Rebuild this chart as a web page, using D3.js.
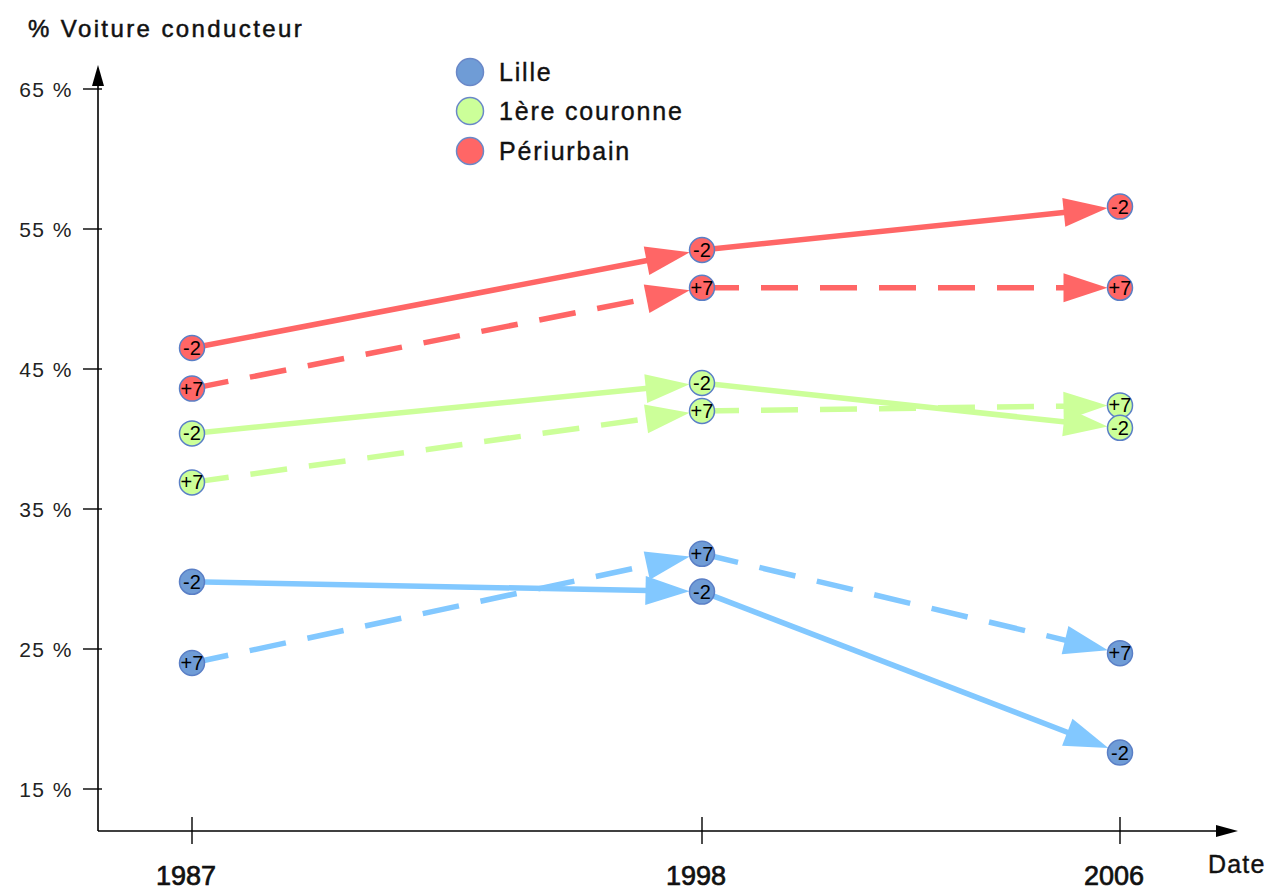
<!DOCTYPE html>
<html><head><meta charset="utf-8">
<script src="https://cdn.jsdelivr.net/npm/d3@7"></script>
<style>body{margin:0;background:#fff} text{font-family:"Liberation Sans",Arial,sans-serif}</style>
</head><body><svg id="c" width="1273" height="891"></svg>
<script>
// ---- data ----
const years = [1987, 1998, 2006];
const yTicks = [15, 25, 35, 45, 55, 65];
const zones = ["Lille", "1ère couronne", "Périurbain"];
const scenarios = ["-2", "+7"];
const lilleMinus2 = [29.8, 29.1, 17.6];
const lillePlus7 = [24.0, 31.8, 24.7];
const couronneMinus2 = [40.4, 44.0, 40.8];
const couronnePlus7 = [36.9, 42.0, 42.4];
const periMinus2 = [46.5, 53.5, 56.6];
const periPlus7 = [43.6, 50.8, 50.8];

const lineColor = {"Lille": "#82c8ff", "1ère couronne": "#ccff99", "Périurbain": "#ff6666"};
const dotColor = {"Lille": "#6f9cd6", "1ère couronne": "#ccff99", "Périurbain": "#ff6666"};

const series = [
  {zone: "Lille", label: "+7", values: lillePlus7},
  {zone: "Lille", label: "-2", values: lilleMinus2},
  {zone: "1ère couronne", label: "+7", values: couronnePlus7},
  {zone: "1ère couronne", label: "-2", values: couronneMinus2},
  {zone: "Périurbain", label: "+7", values: periPlus7},
  {zone: "Périurbain", label: "-2", values: periMinus2}
];

const svg = d3.select("#c");
const x = d3.scaleLinear().domain(years).range([192, 702, 1120]);
const y = d3.scaleLinear().domain([15, 65]).range([789, 89]);
const axisX0 = 98, axisY0 = 831;

// ---- axes ----
const ax = svg.append("g").attr("stroke", "#000").attr("stroke-width", 1.6);
ax.append("line").attr("x1", axisX0).attr("x2", axisX0).attr("y1", axisY0).attr("y2", 80);
ax.append("line").attr("x1", axisX0).attr("x2", 1222).attr("y1", axisY0).attr("y2", axisY0);
svg.append("path").attr("d", `M${axisX0},65 L${axisX0-6},86 L${axisX0+6},86 Z`).attr("fill", "#000");
svg.append("path").attr("d", `M1238,${axisY0} L1216,${axisY0-6} L1216,${axisY0+6} Z`).attr("fill", "#000");

const yt = svg.append("g");
yt.selectAll("line").data(yTicks).join("line")
  .attr("x1", axisX0 - 15).attr("x2", axisX0 + 4)
  .attr("y1", d => y(d)).attr("y2", d => y(d))
  .attr("stroke", "#000").attr("stroke-width", 1.4);
yt.selectAll("text").data(yTicks).join("text")
  .attr("x", 73).attr("y", d => y(d) + 7.5)
  .attr("text-anchor", "end").attr("font-size", 21).attr("letter-spacing", 1.5)
  .attr("fill", "#222").text(d => d + " %");

const xt = svg.append("g");
xt.selectAll("line").data(years).join("line")
  .attr("x1", d => x(d)).attr("x2", d => x(d))
  .attr("y1", axisY0 - 14).attr("y2", axisY0 + 13)
  .attr("stroke", "#000").attr("stroke-width", 1.4);
xt.selectAll("text").data(years).join("text")
  .attr("x", d => x(d) - 6).attr("y", 885)
  .attr("text-anchor", "middle").attr("font-size", 27)
  .attr("fill", "#111").attr("stroke", "#111").attr("stroke-width", 0.7).text(d => d);

svg.append("text").attr("x", 1208).attr("y", 873).attr("font-size", 25).attr("letter-spacing", 1.2)
  .attr("fill", "#111").attr("stroke", "#111").attr("stroke-width", 0.4).text("Date");
svg.append("text").attr("x", 28).attr("y", 37).attr("font-size", 24).attr("letter-spacing", 2.4)
  .attr("fill", "#111").attr("stroke", "#111").attr("stroke-width", 0.5).text("% Voiture conducteur");

// ---- arrows ----
const R = 12.5, AL = 44, AH = 14.5;
const gLines = svg.append("g");
series.forEach(s => {
  for (let i = 0; i < years.length - 1; i++) {
    const x0 = x(years[i]), y0 = y(s.values[i]);
    const x1 = x(years[i+1]), y1 = y(s.values[i+1]);
    const dx = x1 - x0, dy = y1 - y0, len = Math.hypot(dx, dy);
    const ux = dx / len, uy = dy / len;
    const tx = x1 - ux * R, ty = y1 - uy * R;
    const bx = tx - ux * AL, by = ty - uy * AL;
    gLines.append("line")
      .attr("x1", x0).attr("y1", y0).attr("x2", bx + ux * 2).attr("y2", by + uy * 2)
      .attr("stroke", lineColor[s.zone]).attr("stroke-width", 5.5)
      .attr("stroke-dasharray", s.label === "+7" ? "37,22" : null);
    gLines.append("path")
      .attr("d", `M${tx},${ty} L${bx - uy * AH},${by + ux * AH} L${bx + uy * AH},${by - ux * AH} Z`)
      .attr("fill", lineColor[s.zone]);
  }
});

// ---- dots ----
const gDots = svg.append("g");
series.forEach(s => {
  years.forEach((yr, i) => {
    gDots.append("circle").attr("cx", x(yr)).attr("cy", y(s.values[i])).attr("r", R)
      .attr("fill", dotColor[s.zone]).attr("stroke", "#5a7fc6").attr("stroke-width", 1.5);
    gDots.append("text").attr("x", x(yr)).attr("y", y(s.values[i]) + 7)
      .attr("text-anchor", "middle").attr("font-size", 20).attr("fill", "#000")
      .text(s.label);
  });
});

// ---- legend ----
const legendY = [72, 111, 151];
const lg = svg.append("g");
lg.selectAll("circle").data(zones).join("circle")
  .attr("cx", 470).attr("cy", (d, i) => legendY[i]).attr("r", 13.5)
  .attr("fill", d => dotColor[d]).attr("stroke", "#6a88c8").attr("stroke-width", 1.5);
lg.selectAll("text").data(zones).join("text")
  .attr("x", 499).attr("y", (d, i) => legendY[i] + 9)
  .attr("font-size", 25).attr("letter-spacing", 1.8).attr("fill", "#111")
  .attr("stroke", "#111").attr("stroke-width", 0.4).text(d => d);
</script></body></html>
